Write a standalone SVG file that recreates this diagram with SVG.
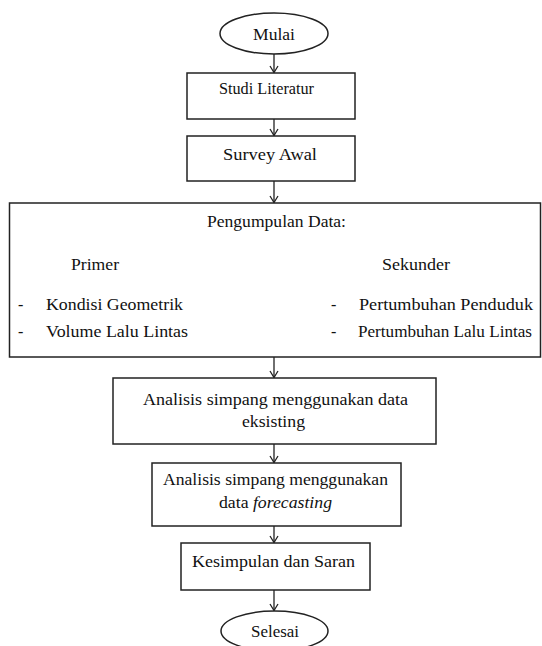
<svg xmlns="http://www.w3.org/2000/svg" width="542" height="646" viewBox="0 0 542 646">
<style>
.n{fill:#fff;stroke:#222;stroke-width:1.5}
.t{font-family:"Liberation Serif","DejaVu Serif","Times New Roman",serif;font-size:16px;fill:#111}
.c{text-anchor:middle}
.e{stroke:#222;stroke-width:1.3;fill:none}
</style>
<defs>
<marker id="ah" markerUnits="userSpaceOnUse" markerWidth="10" markerHeight="10" refX="8" refY="5" orient="auto" viewBox="0 0 10 10">
<path d="M1.5,1 L8,5 L1.5,9" fill="none" stroke="#222" stroke-width="1.3"/>
</marker>
</defs>
<rect width="542" height="646" fill="#fff"/>
<g id="connectors">
<line class="e" x1="274" y1="54" x2="274" y2="72.5" marker-end="url(#ah)"/>
<line class="e" x1="274" y1="119" x2="274" y2="135.5" marker-end="url(#ah)"/>
<line class="e" x1="274" y1="181" x2="274" y2="202.5" marker-end="url(#ah)"/>
<line class="e" x1="274" y1="357" x2="274" y2="377.5" marker-end="url(#ah)"/>
<line class="e" x1="274" y1="444" x2="274" y2="462.5" marker-end="url(#ah)"/>
<line class="e" x1="274" y1="526" x2="274" y2="542.5" marker-end="url(#ah)"/>
<line class="e" x1="274" y1="590" x2="274" y2="610.5" marker-end="url(#ah)"/>
</g>
<g id="mulai">
<ellipse class="n" cx="274" cy="33.5" rx="54" ry="20.5"/>
<text class="t c" x="274" y="40" textLength="42" lengthAdjust="spacingAndGlyphs">Mulai</text>
</g>
<g id="studi">
<rect class="n" x="187" y="73" width="168" height="46"/>
<text class="t c" x="266.5" y="94" textLength="95" lengthAdjust="spacingAndGlyphs">Studi Literatur</text>
</g>
<g id="survey">
<rect class="n" x="187" y="136" width="168" height="45"/>
<text class="t c" x="270" y="160" textLength="94" lengthAdjust="spacingAndGlyphs">Survey Awal</text>
</g>
<g id="pengumpulan">
<rect class="n" x="9.5" y="203" width="531" height="154"/>
<text class="t c" x="276.5" y="227" textLength="139" lengthAdjust="spacingAndGlyphs">Pengumpulan Data:</text>
<text class="t" x="71" y="270" textLength="48" lengthAdjust="spacingAndGlyphs">Primer</text>
<text class="t" x="382" y="270" textLength="68" lengthAdjust="spacingAndGlyphs">Sekunder</text>
<text class="t" x="18" y="310">-</text>
<text class="t" x="46" y="310" textLength="137" lengthAdjust="spacingAndGlyphs">Kondisi Geometrik</text>
<text class="t" x="18" y="337">-</text>
<text class="t" x="46" y="337" textLength="142" lengthAdjust="spacingAndGlyphs">Volume Lalu Lintas</text>
<text class="t" x="331" y="310">-</text>
<text class="t" x="359" y="310" textLength="174" lengthAdjust="spacingAndGlyphs">Pertumbuhan Penduduk</text>
<text class="t" x="331" y="337">-</text>
<text class="t" x="358" y="337" textLength="174" lengthAdjust="spacingAndGlyphs">Pertumbuhan Lalu Lintas</text>
</g>
<g id="analisis-eksisting">
<rect class="n" x="113" y="378" width="323" height="66"/>
<text class="t c" x="275.5" y="405" textLength="265" lengthAdjust="spacingAndGlyphs">Analisis simpang menggunakan data</text>
<text class="t c" x="273.5" y="427" textLength="63" lengthAdjust="spacingAndGlyphs">eksisting</text>
</g>
<g id="analisis-forecasting">
<rect class="n" x="152" y="463" width="249" height="63"/>
<text class="t c" x="275.5" y="485" textLength="225" lengthAdjust="spacingAndGlyphs">Analisis simpang menggunakan</text>
<text class="t" x="219" y="508" textLength="113" lengthAdjust="spacingAndGlyphs">data <tspan font-style="italic">forecasting</tspan></text>
</g>
<g id="kesimpulan">
<rect class="n" x="181" y="543" width="189" height="47"/>
<text class="t c" x="273.5" y="567" textLength="163" lengthAdjust="spacingAndGlyphs">Kesimpulan dan Saran</text>
</g>
<g id="selesai">
<ellipse class="n" cx="274.5" cy="631" rx="53.5" ry="20"/>
<text class="t c" x="275" y="637" textLength="48" lengthAdjust="spacingAndGlyphs">Selesai</text>
</g>
</svg>
